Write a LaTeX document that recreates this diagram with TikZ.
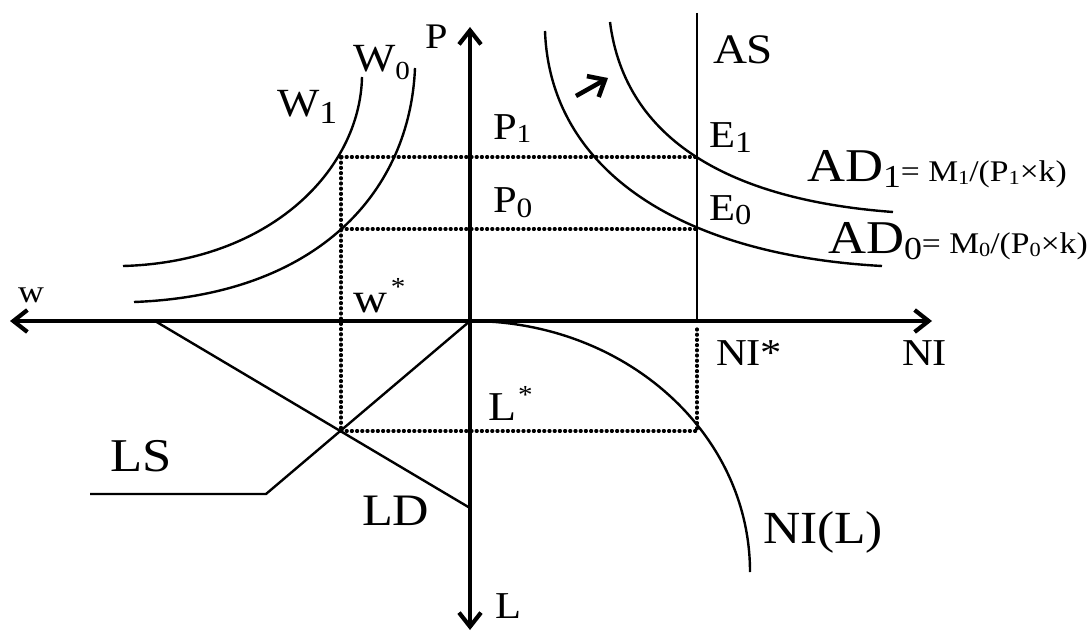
\documentclass[tikz,border=0pt]{standalone}
\usepackage{fontspec}
\setmainfont[FakeStretch=1.12]{Liberation Serif}
\usetikzlibrary{arrows.meta}
\newcommand\fsz[1]{\fontsize{#1}{#1}\selectfont}
\newcommand\mysub[3]{{\fsz{#1}\raisebox{-#2}{#3}}}
\newcommand\mystar{{\fsz{26}\raisebox{17pt}{*}}}
\begin{document}
\begin{tikzpicture}[x=1pt,y=-1pt,
  barb/.tip={Straight Barb[length=14pt,width=22pt]},
  axisline/.style={line width=4.2pt,{barb}-{barb}},
  curveline/.style={line width=2.4pt},
  dotline/.style={line width=3.2pt,line cap=round,dash pattern=on 1pt off 4.2pt},
  lab/.style={anchor=base west,inner sep=0pt,outer sep=0pt}]
\useasboundingbox (0,0) rectangle (1089,631);
% coordinates
\coordinate (O) at (470,321);
\coordinate (Ptop) at (470,27);
\coordinate (Lbot) at (470,630);
\coordinate (Wleft) at (10,321);
\coordinate (NIright) at (932,321);
\coordinate (AStop) at (697,13);
\coordinate (ASbot) at (697,321);
\coordinate (E1) at (697,157);
\coordinate (E0) at (697,229);
\coordinate (A1) at (341,157);
\coordinate (A0) at (341,229);
\coordinate (X) at (341,431);
\coordinate (Y) at (697,431);
\coordinate (Yt) at (697,329);
\coordinate (LDa) at (155,321);
\coordinate (LDb) at (470,508);
\coordinate (LSk) at (266,494);
\coordinate (LSe) at (90,494);
\coordinate (Ra) at (576,96);
\coordinate (Rb) at (608,78);
% dotted guides
\draw[dotline] (A1) -- (E1);
\draw[dotline] (A0) -- (E0);
\draw[dotline] (A1) -- (X);
\draw[dotline] (X) -- (Y);
\draw[dotline] (Yt) -- (Y);
% axes
\draw[axisline] (Lbot) -- (Ptop);
\draw[axisline] (Wleft) -- (NIright);
% AS
\draw[curveline] (AStop) -- (ASbot);
% labour market
\draw[curveline] (LDa) -- (LDb);
\draw[curveline] (O) -- (LSk) -- (LSe);
% W curves
\draw[curveline] (362,77) .. controls (360,170) and (270,262) .. (123,266);
\draw[curveline] (415,68) .. controls (410,190) and (320,295) .. (134,302);
% AD curves
\draw[curveline] (545,31) .. controls (550,170) and (680,255) .. (882,266);
\draw[curveline] (610,22) .. controls (625,140) and (730,200) .. (893,212);
% NI(L)
\draw[curveline] (O) .. controls (625,321) and (750,433) .. (750,572);
% shift arrow
\draw[line width=4.5pt,-{Straight Barb[length=14pt,width=24pt]}] (Ra) -- (Rb);
% labels
\node[lab] (lP) at (425,49) {\fsz{36}P};
\node[lab] (lW0) at (353,72) {\fsz{40}W\mysub{26}{8pt}{0}};
\node[lab] (lW1) at (277,117) {\fsz{40}W\mysub{32}{7pt}{1}};
\node[lab] (lP1) at (493,140) {\fsz{38}P\mysub{26}{3pt}{1}};
\node[lab] (lP0) at (493,212) {\fsz{38}P\mysub{28}{5pt}{0}};
\node[lab] (lE1) at (709,148) {\fsz{38}E\mysub{30}{5pt}{1}};
\node[lab] (lE0) at (709,221) {\fsz{38}E\mysub{29}{4pt}{0}};
\node[lab] (lAS) at (713,64) {\fsz{42}AS};
\node[lab] (lAD1) at (807,182) {\fsz{47}AD\mysub{32}{6pt}{1}\fsz{30}= M\mysub{20}{3pt}{1}/(P\mysub{20}{3pt}{1}×k)};
\node[lab] (lAD0) at (828,253) {\fsz{47}AD\mysub{32}{6pt}{0}\fsz{30}= M\mysub{20}{3pt}{0}/(P\mysub{20}{3pt}{0}×k)};
\node[lab] (lws) at (353,312) {\fsz{42}w\hspace{4pt}\mystar};
\node[lab] (lLs) at (488,420) {\fsz{41}L\hspace{2pt}\mystar};
\node[lab] (lw) at (18,302) {\fsz{32}w};
\node[lab] (lLS) at (110,471) {\fsz{47}LS};
\node[lab] (lLD) at (362,525) {\fsz{45}LD};
\node[lab] (lL) at (495,618) {\fsz{38}L};
\node[lab] (lNIs) at (716,365) {\fsz{38}NI*};
\node[lab] (lNI) at (902,365) {\fsz{38}NI};
\node[lab] (lNIL) at (763,543) {\fsz{46}NI(L)};
\end{tikzpicture}
\end{document}
